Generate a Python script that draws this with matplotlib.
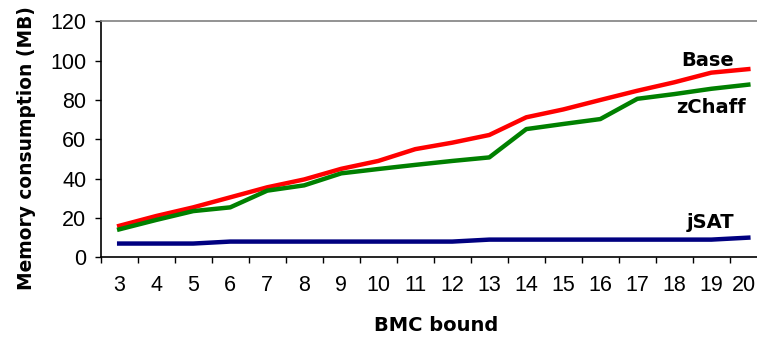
import numpy as np
import matplotlib
matplotlib.use('Agg')
import matplotlib.pyplot as plt
import matplotlib.transforms as mtransforms

plt.rcParams['font.family'] = ['Liberation Sans', 'DejaVu Sans']

# BMC bound values and memory use (MB)
bounds = [3, 4, 5, 6, 7, 8, 9, 10, 11, 12, 13, 14, 15, 16, 17, 18, 19, 20]
base = [16, 21, 25.4, 30.5, 35.6, 39.6, 45, 49, 55, 58.3, 62.2, 71.2, 75.2, 80, 84.7, 89, 93.9, 95.7]
zchaff = [14.2, 19, 23.5, 25.4, 33.9, 36.6, 42.7, 44.9, 47, 49, 50.8, 65.2, 67.8, 70.3, 80.6, 83, 85.7, 87.8]
jsat = [7, 7, 7, 8, 8, 8, 8, 8, 8, 8, 9, 9, 9, 9, 9, 9, 9, 10]

# bold labels: wider face to get the stretched look of the original
bold = dict(fontsize=14, fontweight='bold', family=['DejaVu Sans'])

fig = plt.figure(figsize=(7.57, 3.44), dpi=100)
# plot area runs a bit past the right edge, as in the original
ax = fig.add_axes([0.133, 0.252, 0.880, 0.686])

ax.plot(bounds, base, color='#FF0000', lw=3.2, solid_joinstyle='round')
ax.plot(bounds, zchaff, color='#008000', lw=3.2, solid_joinstyle='round')
ax.plot(bounds, jsat, color='#000080', lw=3.2, solid_joinstyle='round')

ax.text(18.91, 100.3, 'Base', ha='center', va='center', **bold)
ax.text(18.99, 76.4, 'zChaff', ha='center', va='center', **bold)
ax.text(18.99, 17.9, 'jSAT', ha='center', va='center', **bold)

ax.set_xlim(2.5, 20.5)
ax.set_ylim(0, 120)
ax.set_yticks(np.arange(0, 121, 20))
ax.set_xticks(bounds)
ax.set_xticks(np.arange(2.5, 21, 1), minor=True)
ax.tick_params(axis='x', which='major', length=0, pad=13, labelsize=15.5)
ax.tick_params(axis='x', which='minor', length=4.3, width=1, direction='out')
ax.tick_params(axis='y', length=4.3, width=1, direction='out', pad=6, labelsize=15.5)

# last label sits at the image edge; nudge it in a little so it is not cut
last = ax.get_xticklabels()[-1]
last.set_transform(last.get_transform() +
                   mtransforms.ScaledTranslation(-3 / 72, 0, fig.dpi_scale_trans))

for s in ['top', 'right']:
    ax.spines[s].set_color('#808080')
    ax.spines[s].set_linewidth(1.2)
for s in ['left', 'bottom']:
    ax.spines[s].set_linewidth(1.2)

ax.set_ylabel('Memory consumption (MB)', va='center', fontsize=13.4,
              fontweight='bold', family=['DejaVu Sans'])
ax.yaxis.set_label_coords(-0.111, 0.465)
ax.set_xlabel('BMC bound', va='center', **bold)
ax.xaxis.set_label_coords(0.503, -0.291)

fig.savefig('out.png', dpi=100)
